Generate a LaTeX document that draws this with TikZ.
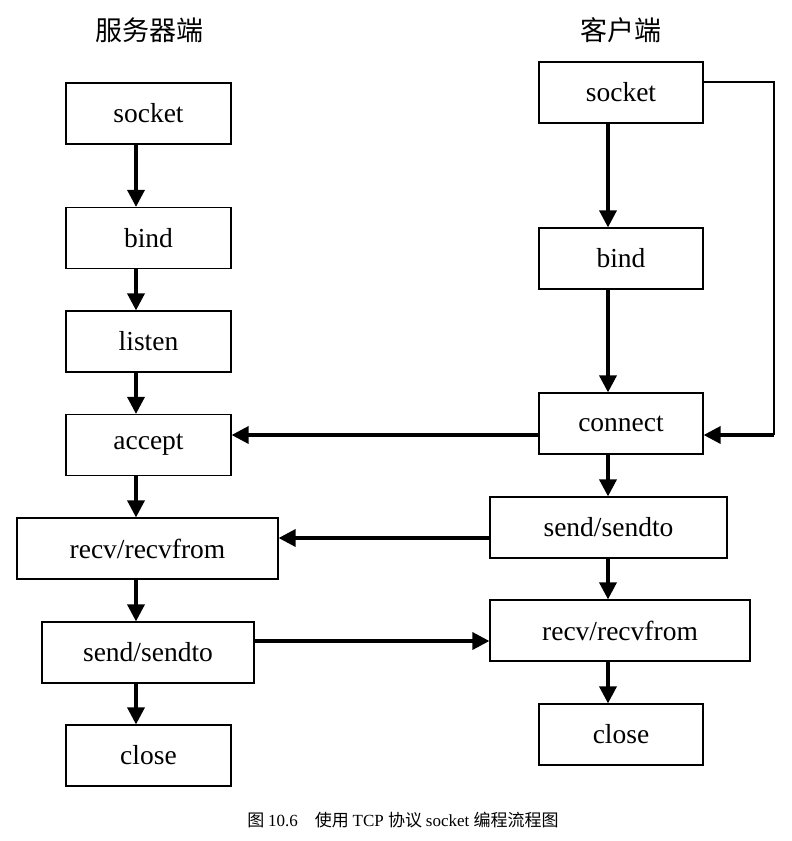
\documentclass[tikz,border=0pt]{standalone}
\usepackage{fontspec}
\setmainfont{Liberation Serif}
\newfontfamily\cjk{Noto Sans CJK SC}
\usepackage{tikz}
\usetikzlibrary{arrows.meta}

\tikzset{
  stepbox/.style={draw, line width=1.2pt, minimum height=61pt, inner sep=0pt,
    font=\fontsize{27.5}{30}\selectfont},
  arr/.style={line width=3.5pt, -{Triangle[width=17pt,length=17pt]}},
}

\begin{document}
\begin{tikzpicture}[x=1pt, y=-1pt]
\useasboundingbox (0,0) rectangle (792,841);

\node (t0) at (149, 30) {\cjk\fontsize{27}{29}\selectfont 服务器端};
\node (t1) at (621, 30) {\cjk\fontsize{27}{29}\selectfont 客户端};

% server side
\node (s0) at (148.5, 113.5) [stepbox, minimum width=165pt] {socket};
\node (s1) at (148.5, 238) [stepbox, minimum width=165pt] {bind};
\node (s2) at (148.5, 341.5) [stepbox, minimum width=165pt] {listen};
\node (s3) at (148.5, 445) [stepbox, minimum width=165pt] {accept};
\node (s4) at (147.5, 548.5) [stepbox, minimum width=261pt] {recv/recvfrom};
\node (s5) at (148, 652.5) [stepbox, minimum width=212pt] {send/sendto};
\node (s6) at (148.5, 755.5) [stepbox, minimum width=165pt] {close};

% client side
\node (c0) at (621, 92.5) [stepbox, minimum width=164pt] {socket};
\node (c1) at (621, 258.5) [stepbox, minimum width=164pt] {bind};
\node (c2) at (621, 423.5) [stepbox, minimum width=164pt] {connect};
\node (c3) at (608.5, 527.5) [stepbox, minimum width=237pt] {send/sendto};
\node (c4) at (620, 630.5) [stepbox, minimum width=260pt] {recv/recvfrom};
\node (c5) at (621, 734.5) [stepbox, minimum width=164pt] {close};

\coordinate (sx) at (136, 0);
\coordinate (cx) at (608, 0);
\coordinate (loop) at (774, 435);

\draw[arr] (s0.south -| sx) -- (s1.north -| sx);
\draw[arr] (s1.south -| sx) -- (s2.north -| sx);
\draw[arr] (s2.south -| sx) -- (s3.north -| sx);
\draw[arr] (s3.south -| sx) -- (s4.north -| sx);
\draw[arr] (s4.south -| sx) -- (s5.north -| sx);
\draw[arr] (s5.south -| sx) -- (s6.north -| sx);

\draw[arr] (c0.south -| cx) -- (c1.north -| cx);
\draw[arr] (c1.south -| cx) -- (c2.north -| cx);
\draw[arr] (c2.south -| cx) -- (c3.north -| cx);
\draw[arr] (c3.south -| cx) -- (c4.north -| cx);
\draw[arr] (c4.south -| cx) -- (c5.north -| cx);

\draw[line width=1.2pt] (c0.east |- 0,82) -| (loop);
\draw[arr] (loop) -- (c2.east |- loop);

\draw[arr] (c2.west |- 0,435) -- (s3.east |- 0,435);
\draw[arr] (c3.west |- 0,538) -- (s4.east |- 0,538);
\draw[arr] (s5.east |- 0,641) -- (c4.west |- 0,641);

\node (cap) at (403, 820) {\fontsize{17}{19}\selectfont\cjk 图\ \rmfamily 10.6\quad\cjk 使用 \rmfamily TCP \cjk 协议 \rmfamily socket \cjk 编程流程图};
\end{tikzpicture}
\end{document}
